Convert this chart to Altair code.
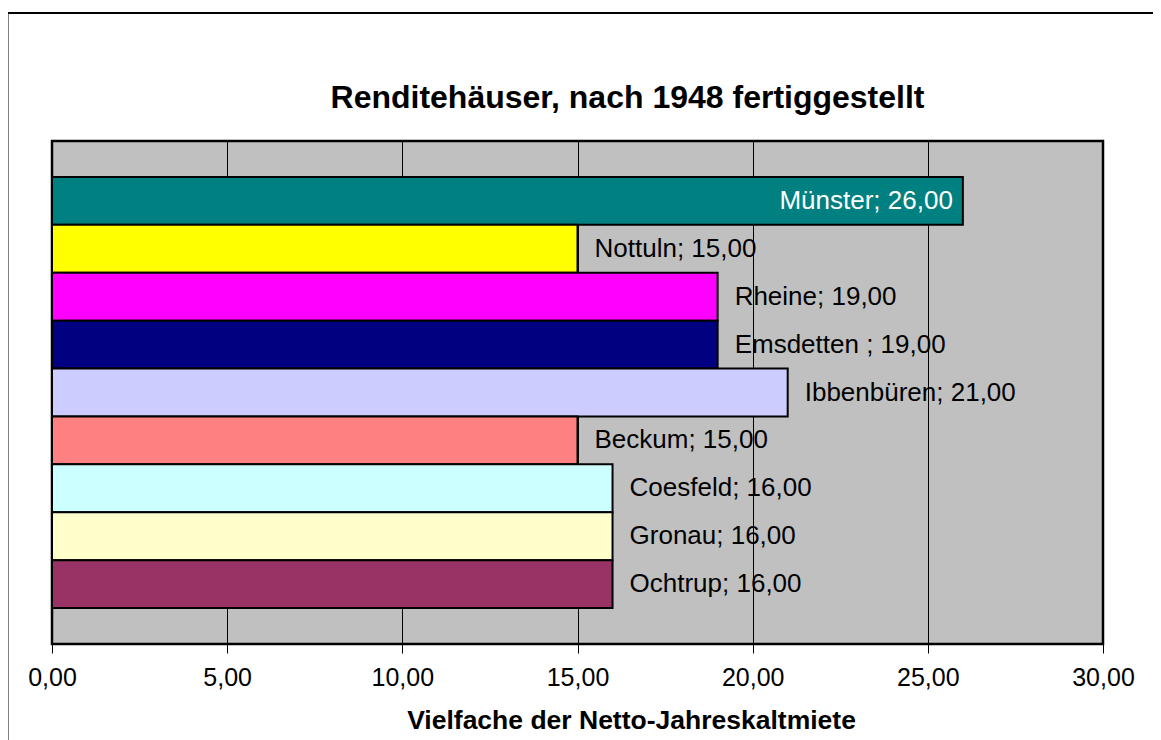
import altair as alt
import pandas as pd

cities = ["Münster", "Nottuln", "Rheine", "Emsdetten ", "Ibbenbüren", "Beckum", "Coesfeld", "Gronau", "Ochtrup"]
values = [26.0, 15.0, 19.0, 19.0, 21.0, 15.0, 16.0, 16.0, 16.0]
colors = ["#008080", "#FFFF00", "#FF00FF", "#000080", "#CCCCFF", "#FF8080", "#CCFFFF", "#FFFFCC", "#993366"]
inside = [True, False, False, False, False, False, False, False, False]
x_ticks = [0, 5, 10, 15, 20, 25, 30]

FONT = "Liberation Sans"

df = pd.DataFrame({
    "city": cities,
    "value": values,
    "inside": inside,
    "label": [f"{c}; {v:.2f}".replace(".", ",") for c, v in zip(cities, values)],
})

y_enc = alt.Y("city:N", sort=cities, axis=None,
              scale=alt.Scale(paddingInner=0, paddingOuter=0.75))
x_enc = alt.X("value:Q",
              scale=alt.Scale(domain=[0, 30], nice=False, zero=True),
              axis=alt.Axis(values=x_ticks, grid=True, gridColor="black", gridWidth=1, gridOpacity=1,
                            domain=False, ticks=True, tickSize=9, tickColor="black", tickWidth=1,
                            labelExpr="replace(format(datum.value, '.2f'), '.', ',')",
                            labelFont=FONT, labelFontSize=25, labelColor="black", labelPadding=12,
                            labelFlush=False,
                            title="Vielfache der Netto-Jahreskaltmiete",
                            titleFont=FONT, titleFontSize=26.5, titleFontWeight="bold", titleColor="black",
                            titleX=579, titleY=84, titleBaseline="alphabetic", titleAlign="center"))

base = alt.Chart(df)

bars = base.mark_bar(stroke="black", strokeWidth=2, opacity=1).encode(
    x=x_enc,
    y=y_enc,
    color=alt.Color("city:N", scale=alt.Scale(domain=cities, range=colors), legend=None),
)

labels_out = base.transform_filter("!datum.inside").mark_text(
    align="left", baseline="middle", dx=17, font=FONT, fontSize=26, color="black"
).encode(x="value:Q", y=alt.Y("city:N", sort=cities), text="label:N")

labels_in = base.transform_filter("datum.inside").mark_text(
    align="right", baseline="middle", dx=-10, font=FONT, fontSize=26, color="white"
).encode(x="value:Q", y=alt.Y("city:N", sort=cities), text="label:N")

frame_df = pd.DataFrame({"a": [0]})
left_line = alt.Chart(frame_df).mark_rule(color="#808080", strokeWidth=2).encode(
    x=alt.value(-44), y=alt.value(-128), y2=alt.value(600))
top_line = alt.Chart(frame_df).mark_rule(color="black", strokeWidth=2).encode(
    x=alt.value(-44), x2=alt.value(1103), y=alt.value(-128))

chart = alt.layer(bars, labels_out, labels_in, left_line, top_line).properties(
    width=1051,
    height=503,
    background="white",
    autosize=alt.AutoSizeParams(type="none"),
    padding={"left": 44, "top": 133, "right": 50, "bottom": 100},
    title=alt.TitleParams(
        "Renditehäuser, nach 1948 fertiggestellt",
        font=FONT, fontSize=32, fontWeight="bold", color="black",
        anchor="middle", frame="group", dx=50, offset=-128, baseline="alphabetic",
    ),
).configure_view(
    fill="#C0C0C0", stroke="black", strokeWidth=2.5
)

chart.save("out.html", embed_options={"renderer": "svg", "actions": False})
